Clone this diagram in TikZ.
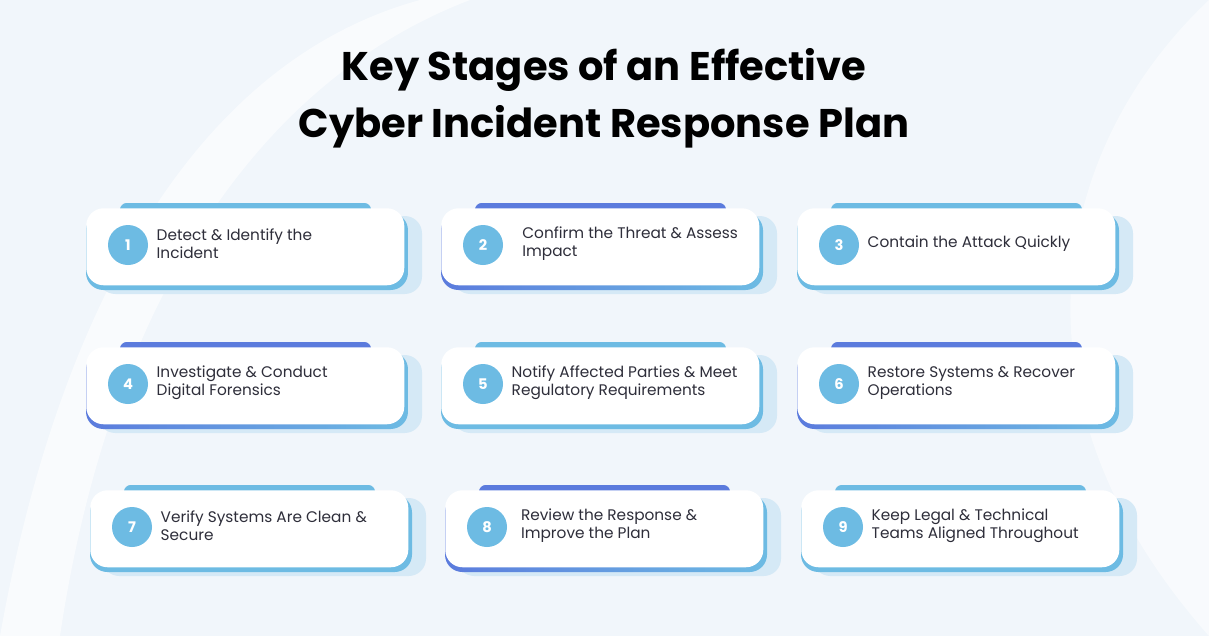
\documentclass[tikz,border=0pt]{standalone}
\usepackage{fontspec}
\setmainfont{Poppins}
\definecolor{bg}{HTML}{F1F6FB}
\definecolor{lb}{HTML}{6DBBE3}
\definecolor{ind}{HTML}{5B7BDD}
\definecolor{shd}{HTML}{D5E9F6}
\definecolor{txt}{HTML}{2E2E3A}
\tikzset{
  card/.style={fill=white,rounded corners=13pt,minimum width=238.5pt,minimum height=57.75pt,inner sep=0pt},
  num/.style={circle,fill=lb,minimum size=30pt,inner sep=0pt,text=white,font=\bfseries\fontsize{11}{11}\selectfont},
  lbl/.style={anchor=west,align=left,text=txt,font=\fontsize{11.5}{13.5}\selectfont},
  ttl/.style={align=center,font=\fontsize{30}{43}\selectfont\bfseries,text=black}
}
% #1 x, #2 y (px), #3 number, #4 text, #5 tab colour, #6 bottom left colour
\newcommand\stagecard[6]{%
  \fill[shd,rounded corners=13pt] (#1+12,#2+8) rectangle (#1+336,#2+86);
  \fill[#5,rounded corners=5pt] (#1+34,#2-5) rectangle (#1+285,#2+12);
  \shade[left color=#6,right color=lb,rounded corners=13pt] (#1,#2+5) rectangle (#1+322,#2+82);
  \node[card,anchor=north west] (c#3) at (#1,#2) {};
  \node[num] (n#3) at (#1+42,#2+37) {#3};
  \node[lbl] (t#3) at (#1+66,#2+36) {#4};
}
\begin{document}
\begin{tikzpicture}[x=0.75pt,y=-0.75pt]
\fill[bg] (0,0) rectangle (1209,636);
\useasboundingbox (0,0) rectangle (1209,636);
\fill[white,opacity=0.6] (0,636) .. controls (60,300) and (200,60) .. (420,0) -- (470,0) .. controls (260,80) and (110,300) .. (60,636) -- cycle;
\fill[white,opacity=0.5] (1209,0) .. controls (1050,150) and (1000,400) .. (1209,636) -- cycle;
\node[ttl] (title) at (604,98) {Key Stages of an Effective\\Cyber Incident Response Plan};
\stagecard{86}{208}{1}{Detect \& Identify the\\Incident}{lb}{lb}
\stagecard{441}{208}{2}{\hspace{8pt}Confirm the Threat \& Assess\\\hspace{8pt}Impact}{ind}{ind}
\stagecard{797}{208}{3}{Contain the Attack Quickly}{lb}{lb}
\stagecard{86}{347}{4}{Investigate \& Conduct\\Digital Forensics}{ind}{ind}
\stagecard{441}{347}{5}{Notify Affected Parties \& Meet\\Regulatory Requirements}{lb}{lb}
\stagecard{797}{347}{6}{Restore Systems \& Recover\\Operations}{ind}{ind}
\stagecard{90}{490}{7}{Verify Systems Are Clean \&\\Secure}{lb}{lb}
\stagecard{445}{490}{8}{\hspace{4pt}Review the Response \&\\\hspace{4pt}Improve the Plan}{ind}{ind}
\stagecard{801}{490}{9}{Keep Legal \& Technical\\Teams Aligned Throughout}{lb}{lb}
\end{tikzpicture}
\end{document}
